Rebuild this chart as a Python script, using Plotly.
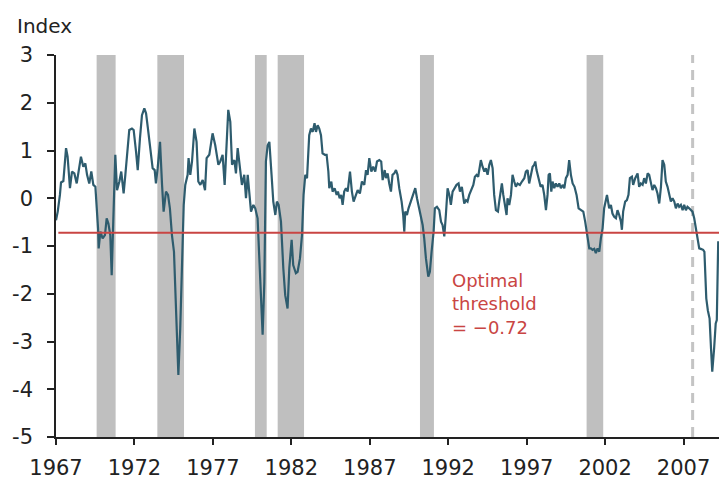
import plotly.graph_objects as go

# ---- data (decimal years, index values) ----
years = [
    1967.00, 1967.11, 1967.25, 1967.32, 1967.47, 1967.64, 1967.74, 1967.89, 1968.02, 1968.17,
    1968.32, 1968.42, 1968.59, 1968.74, 1968.87, 1968.98, 1969.12, 1969.25, 1969.38, 1969.51,
    1969.59, 1969.68, 1969.72, 1969.83, 1969.97, 1970.12, 1970.23, 1970.34, 1970.46, 1970.55,
    1970.65, 1970.78, 1970.89, 1971.04, 1971.16, 1971.31, 1971.42, 1971.53, 1971.67, 1971.84,
    1971.95, 1972.10, 1972.21, 1972.35, 1972.48, 1972.63, 1972.74, 1972.86, 1973.01, 1973.16,
    1973.29, 1973.37, 1973.48, 1973.63, 1973.76, 1973.86, 1974.01, 1974.14,
    1974.26, 1974.39, 1974.52, 1974.65, 1974.80, 1974.92, 1975.03, 1975.14, 1975.24, 1975.39,
    1975.45, 1975.56, 1975.67, 1975.82, 1975.96, 1976.07, 1976.20, 1976.35, 1976.50, 1976.60,
    1976.77, 1976.98, 1977.15, 1977.35, 1977.47, 1977.62, 1977.75, 1977.88, 1977.98, 1978.11,
    1978.22, 1978.37, 1978.47, 1978.58, 1978.73, 1978.85, 1979.00, 1979.11, 1979.22, 1979.32,
    1979.43, 1979.58, 1979.70, 1979.85, 1980.00, 1980.17, 1980.28, 1980.38, 1980.49, 1980.60,
    1980.74, 1980.85, 1980.98, 1981.08,
    1981.19, 1981.34, 1981.49, 1981.61, 1981.76, 1981.87, 1982.02, 1982.12, 1982.29, 1982.40,
    1982.55, 1982.68, 1982.78, 1982.89, 1983.00, 1983.14, 1983.25, 1983.36, 1983.48, 1983.57,
    1983.68, 1983.78, 1983.89, 1983.99, 1984.14, 1984.25, 1984.36, 1984.42, 1984.55, 1984.63,
    1984.76, 1984.89, 1984.97, 1985.08, 1985.18, 1985.27, 1985.37, 1985.48, 1985.59, 1985.74,
    1985.86, 1985.97, 1986.12, 1986.23, 1986.37, 1986.50, 1986.65, 1986.76, 1986.86, 1986.97,
    1987.10, 1987.22, 1987.35, 1987.46, 1987.61, 1987.73, 1987.82, 1987.95,
    1988.03, 1988.14, 1988.24, 1988.35, 1988.45, 1988.56, 1988.67, 1988.77, 1988.88, 1989.03,
    1989.13, 1989.20, 1989.26, 1989.37, 1989.47, 1989.62, 1989.77, 1989.90, 1990.01, 1990.15,
    1990.26, 1990.37, 1990.47, 1990.58, 1990.73, 1990.83, 1990.94, 1991.07, 1991.15, 1991.28,
    1991.43, 1991.54, 1991.64, 1991.75, 1991.85, 1991.96, 1992.07, 1992.17, 1992.28, 1992.43,
    1992.53, 1992.66, 1992.75, 1992.87, 1993.02, 1993.13, 1993.23, 1993.34, 1993.49, 1993.60,
    1993.70, 1993.81, 1993.91, 1993.98, 1994.08, 1994.19, 1994.30, 1994.40, 1994.51, 1994.62,
    1994.72, 1994.83, 1994.93, 1995.04, 1995.17,
    1995.25, 1995.36, 1995.42, 1995.51, 1995.61, 1995.72, 1995.78, 1995.89, 1996.00, 1996.10,
    1996.21, 1996.31, 1996.42, 1996.57, 1996.70, 1996.85, 1996.95, 1997.06, 1997.16, 1997.27,
    1997.38, 1997.48, 1997.55, 1997.63, 1997.76, 1997.89, 1998.01, 1998.12, 1998.23, 1998.33,
    1998.40, 1998.48, 1998.57, 1998.65, 1998.76, 1998.86, 1998.97, 1999.08, 1999.18, 1999.29,
    1999.40, 1999.50, 1999.61, 1999.71, 1999.82, 1999.93, 2000.05, 2000.18, 2000.31, 2000.46,
    2000.61, 2000.73, 2000.82, 2000.90, 2000.99, 2001.09, 2001.20, 2001.31, 2001.41, 2001.52,
    2001.63, 2001.73, 2001.84, 2001.94, 2002.05,
    2002.12, 2002.26, 2002.37, 2002.47, 2002.58, 2002.69, 2002.79, 2002.90, 2003.01, 2003.07,
    2003.15, 2003.28, 2003.39, 2003.49, 2003.58, 2003.71, 2003.79, 2003.92, 2004.07, 2004.17,
    2004.28, 2004.39, 2004.49, 2004.60, 2004.71, 2004.81, 2004.92, 2005.02, 2005.13, 2005.24,
    2005.34, 2005.45, 2005.56, 2005.66, 2005.77, 2005.87, 2005.98, 2006.09, 2006.19, 2006.30,
    2006.41, 2006.51, 2006.62, 2006.72, 2006.83, 2006.94, 2007.04, 2007.15, 2007.25, 2007.36,
    2007.47, 2007.57, 2007.68, 2007.79, 2007.89, 2008.00, 2008.10, 2008.25, 2008.33, 2008.45,
    2008.55, 2008.66, 2008.75, 2008.83, 2008.95, 2009.05, 2009.12, 2009.21,
]

index_values = [
    -0.46, -0.28, 0.07, 0.33, 0.36, 1.05, 0.87, 0.21, 0.56, 0.52,
    0.31, 0.56, 0.87, 0.66, 0.73, 0.49, 0.31, 0.56, 0.28, 0.24,
    -0.14, -0.63, -1.05, -0.70, -0.84, -0.77, -0.42, -0.53, -0.77, -1.61,
    -0.49, 0.91, 0.17, 0.35, 0.56, 0.10, 0.49, 0.91, 1.43, 1.46,
    1.43, 0.98, 0.59, 1.25, 1.74, 1.88, 1.78, 1.46, 0.98, 0.63,
    0.59, 0.31, 0.63, 1.18, 0.28, -0.28, 0.14, 0.07,
    -0.21, -0.77, -1.12, -2.38, -3.70, -2.72, -1.19, -0.14, 0.28, 0.49,
    0.84, 0.49, 0.77, 1.46, 1.18, 0.35, 0.28, 0.38, 0.17, 0.84,
    0.91, 1.36, 1.11, 0.70, 0.77, 0.91, 0.28, 1.11, 1.85, 1.60,
    0.70, 0.80, 0.52, 1.05, 0.66, 0.28, 0.49, 0.00, 0.49, 0.07,
    -0.28, -0.14, -0.21, -0.42, -1.75, -2.86, -1.75, 0.77, 1.11, 1.18,
    0.49, -0.07, -0.35, -0.07,
    -0.14, -0.49, -1.47, -2.03, -2.31, -1.47, -0.87, -1.40, -1.57, -1.54,
    -1.26, -0.77, 0.07, 0.49, 0.42, 1.32, 1.46, 1.39, 1.57, 1.39,
    1.53, 1.46, 1.32, 0.94, 0.91, 0.91, 0.56, 0.21, 0.35, 0.14,
    0.21, 0.07, 0.14, 0.00, 0.07, -0.14, 0.14, 0.21, 0.14, 0.56,
    0.14, -0.07, 0.07, 0.17, 0.10, 0.35, 0.28, 0.59, 0.49, 0.84,
    0.56, 0.66, 0.56, 0.77, 0.80, 0.77, 0.38, 0.59,
    0.42, 0.52, 0.31, 0.14, 0.49, 0.52, 0.59, 0.49, 0.21, -0.07,
    -0.35, -0.70, -0.28, -0.35, -0.21, -0.07, 0.07, 0.21, 0.00, -0.21,
    -0.42, -0.56, -0.84, -1.26, -1.64, -1.54, -1.12, -0.70, -0.21, -0.18,
    -0.25, -0.49, -0.56, -0.80, -0.35, 0.21, 0.07, -0.14, 0.14, 0.21,
    0.28, 0.31, 0.14, 0.24, -0.11, -0.04, -0.07, 0.07, 0.21, 0.28,
    0.45, 0.49, 0.45, 0.59, 0.80, 0.66, 0.56, 0.63, 0.49, 0.70,
    0.80, 0.63, 0.07, -0.25, -0.28,
    -0.07, 0.21, 0.31, 0.07, -0.14, -0.35, 0.00, -0.14, 0.07, 0.49,
    0.35, 0.24, 0.31, 0.28, 0.35, 0.42, 0.56, 0.59, 0.31, 0.49,
    0.66, 0.70, 0.77, 0.59, 0.42, 0.24, 0.28, 0.07, -0.25, 0.07,
    0.49, 0.52, 0.14, 0.35, 0.21, 0.31, 0.24, 0.31, 0.21, 0.28,
    0.21, 0.42, 0.49, 0.80, 0.49, 0.31, 0.24, 0.07, -0.21, -0.25,
    -0.28, -0.49, -0.70, -0.87, -1.05, -1.05, -1.08, -1.06, -1.15, -1.05,
    -1.12, -0.84, -0.63, -0.21, 0.00,
    0.07, -0.21, -0.14, -0.32, -0.39, -0.42, -0.25, -0.35, -0.49, -0.66,
    -0.28, -0.07, -0.04, 0.07, 0.42, 0.45, 0.28, 0.42, 0.52, 0.24,
    0.31, 0.28, 0.42, 0.31, 0.52, 0.49, 0.28, 0.17, 0.28, 0.21,
    0.10, -0.11, 0.24, 0.80, 0.70, 0.35, 0.24, 0.07, -0.07, 0.00,
    -0.07, -0.21, -0.11, -0.18, -0.14, -0.25, -0.14, -0.25, -0.18, -0.21,
    -0.25, -0.28, -0.42, -0.63, -0.84, -1.05, -1.06, -1.08, -1.12, -2.10,
    -2.35, -2.52, -3.14, -3.63, -3.14, -2.62, -2.55, -0.90,
]

recession_starts = [1969.59, 1973.46, 1979.68, 1981.13, 1990.20, 2000.82]
recession_ends = [1970.80, 1975.16, 1980.43, 1982.81, 1991.09, 2001.88]

threshold = -0.72
marker_year = 2007.58

x_tick_years = [1967, 1972, 1977, 1982, 1987, 1992, 1997, 2002, 2007]
y_tick_values = [3, 2, 1, 0, -1, -2, -3, -4, -5]
y_tick_labels = ["3", "2", "1", "0", "-1", "-2", "-3", "-4", "-5"]

x_min, x_max = 1967, 2009.26
y_min, y_max = -5, 3

assert len(years) == len(index_values)

FONT = "DejaVu Sans"
LINE_COLOR = "#2E5C6E"
RED = "#C94543"
GREY_BAND = "#BFBFBF"
TEXT = "#222222"

fig = go.Figure()

shapes = []
for s, e in zip(recession_starts, recession_ends):
    shapes.append(dict(type="rect", xref="x", yref="y", x0=s, x1=e, y0=y_min, y1=y_max,
                       fillcolor=GREY_BAND, line=dict(width=0), layer="below"))
shapes.append(dict(type="line", xref="x", yref="y", x0=marker_year, x1=marker_year,
                   y0=y_min, y1=y_max, line=dict(color="#C4C4C4", width=3, dash="10px,7px"),
                   layer="below"))

fig.add_trace(go.Scatter(x=years, y=index_values, mode="lines",
                         line=dict(color=LINE_COLOR, width=2.2), hoverinfo="skip",
                         showlegend=False))

shapes.append(dict(type="line", xref="x", yref="y", x0=x_min + 0.15, x1=x_max,
                   y0=threshold, y1=threshold, line=dict(color=RED, width=2), layer="above"))

fig.update_layout(
    width=719, height=483,
    margin=dict(l=56, r=0, t=55, b=46, autoexpand=False),
    paper_bgcolor="white", plot_bgcolor="white",
    font=dict(family=FONT, color=TEXT),
    shapes=shapes,
    showlegend=False,
    annotations=[
        dict(text="Index", xref="paper", yref="paper", x=-0.062, y=1.075,
             xanchor="left", yanchor="middle", showarrow=False,
             font=dict(family=FONT, size=20, color=TEXT)),
        dict(text="Optimal<br>threshold<br>= \u22120.72", xref="x", yref="y",
             x=1992.1, y=-1.47, xanchor="left", yanchor="top", align="left",
             showarrow=False, font=dict(family=FONT, size=18, color=RED)),
    ],
)

fig.update_xaxes(range=[x_min, x_max], tickmode="array", tickvals=x_tick_years,
                 ticktext=[str(v) for v in x_tick_years],
                 showgrid=False, zeroline=False, showline=True, linecolor=TEXT,
                 linewidth=1.5, ticks="outside", ticklen=6, tickwidth=1.5, tickcolor=TEXT,
                 ticklabelstandoff=5,
                 tickfont=dict(family=FONT, size=21, color=TEXT))
fig.update_yaxes(range=[y_min, y_max], tickmode="array", tickvals=y_tick_values,
                 ticktext=y_tick_labels,
                 showgrid=False, zeroline=False, showline=True, linecolor=TEXT,
                 linewidth=1.5, ticks="outside", ticklen=7, tickwidth=1.5, tickcolor=TEXT,
                 ticklabelstandoff=10,
                 tickfont=dict(family=FONT, size=21, color=TEXT))

fig.write_html("out.html", post_script="document.body.style.margin='0';",
               config={"displayModeBar": False})
